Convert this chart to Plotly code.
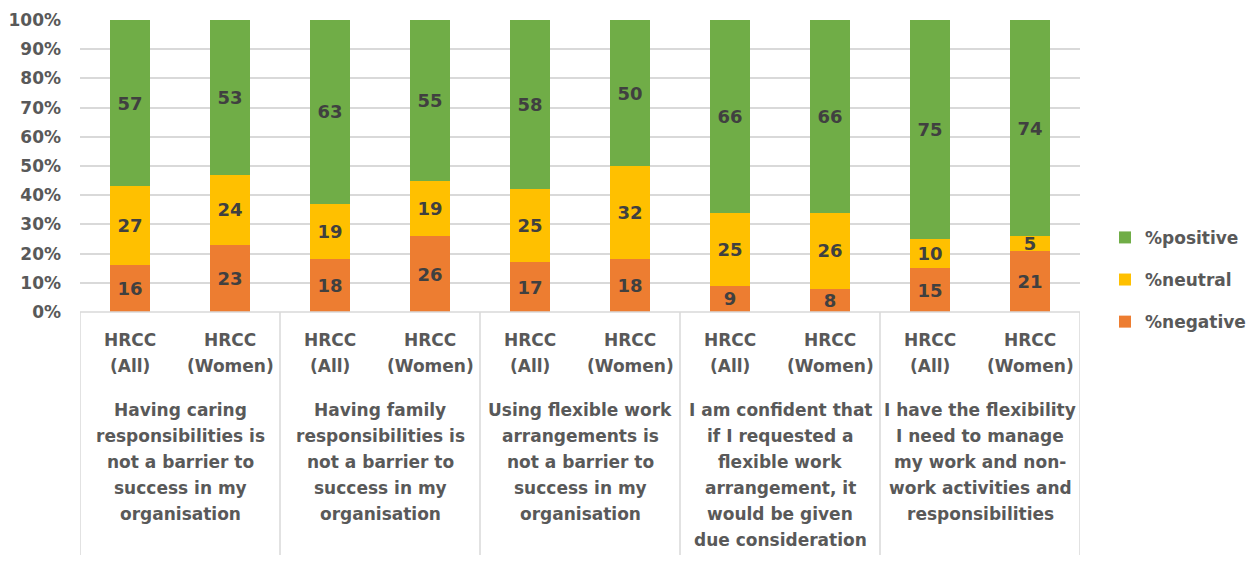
import plotly.graph_objects as go

# Survey statements (group labels, one entry per wrapped line) and respondent subsets
statements = [
    ["Having caring", "responsibilities is", "not a barrier to", "success in my", "organisation"],
    ["Having family", "responsibilities is", "not a barrier to", "success in my", "organisation"],
    ["Using flexible work", "arrangements is", "not a barrier to", "success in my", "organisation"],
    ["I am confident that", "if I requested a", "flexible work", "arrangement, it",
     "would be given", "due consideration"],
    ["I have the flexibility", "I need to manage", "my work and non-",
     "work activities and", "responsibilities"],
]
subsets = [["HRCC", "(All)"], ["HRCC", "(Women)"]]

# Percentages per bar (statement x subset, in order)
negative = [16, 23, 18, 26, 17, 18, 9, 8, 15, 21]
neutral = [27, 24, 19, 19, 25, 32, 25, 26, 10, 5]
positive = [57, 53, 63, 55, 58, 50, 66, 66, 75, 74]

FONT = "DejaVu Sans"
TXT = "#595959"
LBL = "#404040"
GRID = "#d9d9d9"
PLOT_H = 292.0          # plot area height in px
LINE_H = 26.0           # line spacing of category text in px

n = len(negative)
xs = list(range(n))

fig = go.Figure()
series = [
    ("%negative", negative, "#ED7D31", 3),
    ("%neutral", neutral, "#FFC000", 2),
    ("%positive", positive, "#70AD47", 1),
]
for name, vals, col, rank in series:
    fig.add_trace(go.Bar(
        x=xs, y=vals, name=name, legendgroup=name, legendrank=rank,
        marker=dict(color=col, line=dict(width=0)),
        width=0.4,
        text=[str(v) for v in vals],
        textposition="inside", insidetextanchor="middle",
        textangle=0, constraintext="none",
        textfont=dict(family=FONT, size=18, color=LBL, weight="bold"),
        hoverinfo="skip",
    ))

shapes = []
annotations = []
# bottom axis line across the plot
shapes.append(dict(type="line", xref="x", yref="paper", x0=-0.5, x1=n - 0.5,
                   y0=0, y1=0, line=dict(color=GRID, width=1.5)))
# group dividers in the category area
for g in range(len(statements) + 1):
    xv = -0.5 + 2 * g
    shapes.append(dict(type="line", xref="x", yref="paper", x0=xv, x1=xv,
                       y0=0, y1=-243 / PLOT_H, line=dict(color=GRID, width=1.5)))


def add_lines(xc, top_px, lines):
    # one annotation per line so the line spacing can be set exactly
    for k, line in enumerate(lines):
        yc = top_px + k * LINE_H
        annotations.append(dict(
            x=xc, y=-yc / PLOT_H, xref="x", yref="paper",
            xanchor="center", yanchor="middle",
            text=line, showarrow=False,
            font=dict(family=FONT, size=17, color=TXT, weight="bold"),
        ))


for i in range(n):
    add_lines(i, 28, subsets[i % 2])
for g, s in enumerate(statements):
    add_lines(2 * g + 0.5, 98, s)

fig.update_layout(
    barmode="stack",
    width=1256, height=564,
    margin=dict(l=80, r=176, t=20, b=252, autoexpand=False),
    plot_bgcolor="white", paper_bgcolor="white",
    shapes=shapes, annotations=annotations,
    uniformtext=dict(minsize=18, mode="show"),
    showlegend=True,
    legend=dict(
        x=1.025, y=0.11, xanchor="left", yanchor="middle",
        traceorder="grouped", tracegroupgap=17,
        font=dict(family=FONT, size=17, color=TXT, weight="bold"),
        itemwidth=30,
    ),
    xaxis=dict(range=[-0.5, n - 0.5], showticklabels=False, showgrid=False,
               zeroline=False, showline=False, fixedrange=True),
    yaxis=dict(range=[0, 100], dtick=10, ticksuffix="%", showgrid=True,
               gridcolor=GRID, gridwidth=1.5, zeroline=False, showline=False,
               ticklabelstandoff=18,
               tickfont=dict(family=FONT, size=17, color=TXT, weight="bold")),
)

fig.write_html("out.html")
